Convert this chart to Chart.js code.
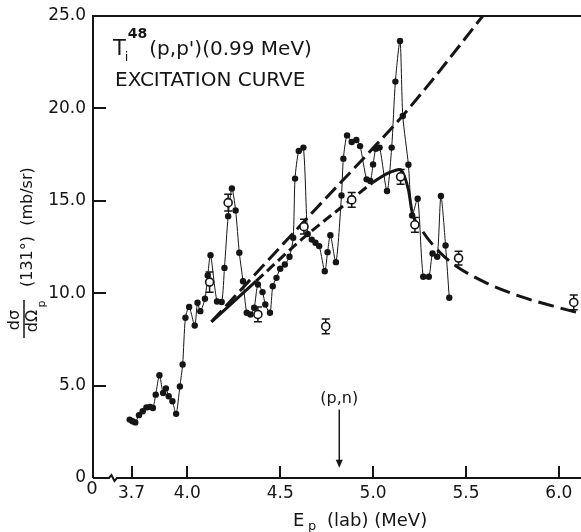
<!DOCTYPE html>
<html>
<head>
<meta charset="utf-8">
<script src="https://cdn.jsdelivr.net/npm/chart.js@4.4.0/dist/chart.umd.min.js"></script>
<style>
  html, body { margin: 0; padding: 0; background: #fff; }
  #wrap { width: 581px; height: 532px; }
</style>
</head>
<body>
<div id="wrap"><canvas id="c" width="581" height="532"></canvas></div>
<script>
// Ti-48 (p,p') excitation curve for the 0.99 MeV level, measured at 131 degrees

// measured cross sections (filled points)
const energyMeV = [3.69, 3.705, 3.72, 3.74, 3.76, 3.78, 3.80, 3.815, 3.83, 3.85, 3.87, 3.885, 3.90, 3.92, 3.94, 3.96, 3.975, 3.99, 4.01, 4.04, 4.055, 4.07, 4.095, 4.11, 4.125, 4.16, 4.185, 4.20, 4.22, 4.24, 4.26, 4.28, 4.30, 4.32, 4.34, 4.36, 4.38, 4.405, 4.42, 4.445, 4.46, 4.48, 4.50, 4.525, 4.55, 4.57, 4.58, 4.60, 4.625, 4.648, 4.67, 4.69, 4.71, 4.74, 4.755, 4.77, 4.80, 4.83, 4.84, 4.86, 4.885, 4.91, 4.93, 4.965, 4.985, 5.00, 5.015, 5.035, 5.075, 5.10, 5.12, 5.145, 5.16, 5.19, 5.21, 5.24, 5.27, 5.30, 5.32, 5.345, 5.365, 5.39, 5.41];
const crossSection = [3.16, 3.07, 3.01, 3.4, 3.61, 3.82, 3.85, 3.79, 4.51, 5.56, 4.6, 4.85, 4.42, 4.15, 3.47, 4.95, 6.14, 8.67, 9.26, 8.25, 9.48, 9.03, 9.7, 10.96, 12.06, 9.55, 9.52, 11.37, 14.17, 15.67, 14.48, 12.19, 10.65, 8.94, 8.85, 9.21, 10.47, 10.06, 9.39, 8.94, 10.38, 10.83, 11.32, 11.55, 11.97, 13.0, 16.2, 17.7, 17.88, 13.2, 12.9, 12.73, 12.55, 11.19, 12.22, 13.14, 11.68, 15.29, 17.28, 18.54, 18.18, 18.29, 17.96, 16.16, 16.07, 16.97, 17.82, 17.88, 15.53, 17.88, 21.45, 23.65, 19.59, 16.95, 14.21, 15.11, 10.89, 10.89, 12.15, 11.97, 15.26, 12.58, 9.75];

// energy-averaged points (open circles) with their errors
const avgEnergy = [4.12, 4.22, 4.38, 4.628, 4.745, 4.885, 5.148, 5.225, 5.46, 6.08];
const avgSigma = [10.6, 14.9, 8.85, 13.6, 8.2, 15.05, 16.3, 13.7, 11.9, 9.5];
const avgError = [0.55, 0.45, 0.4, 0.4, 0.4, 0.4, 0.4, 0.4, 0.37, 0.4];

// Hauser-Feshbach curves: without and with neutron competition
const hfNoCompEnergy = [4.13, 4.4, 4.7, 5.0, 5.15, 5.3, 5.45, 5.59];
const hfNoCompSigma = [8.45, 11.4, 14.65, 17.85, 19.5, 21.3, 23.2, 25.0];
const hfCompEnergy = [4.13, 4.37, 4.62, 4.88, 5.0, 5.08, 5.145, 5.19, 5.21, 5.27, 5.36, 5.45, 5.6, 5.8, 5.97, 6.12];
const hfCompSigma = [8.45, 10.65, 12.95, 15.05, 16.0, 16.5, 16.7, 15.6, 14.4, 13.3, 12.2, 11.45, 10.6, 9.8, 9.3, 8.9];

// axes
const xTickValues = [3.7, 4.0, 4.5, 5.0, 5.5, 6.0];
const xTickLabels = ['3.7', '4.0', '4.5', '5.0', '5.5', '6.0'];
const xAxisStart = 3.4925, xAxisEnd = 6.119, xAxisStartLabel = '0', xBreakAt = 3.6;
const yTickValues = [0, 5, 10, 15, 20, 25];
const yTickLabels = ['0', '5.0', '10.0', '15.0', '20.0', '25.0'];
const pnThreshold = 4.818;

const pts = (xs, ys) => xs.map((x, i) => ({ x, y: ys[i] }));
const INK = '#151515';
const FONT = '"DejaVu Sans", sans-serif';

const errorBars = {
  id: 'errorBars',
  afterDatasetsDraw(chart) {
    const { ctx, scales: { x, y } } = chart;
    ctx.save();
    ctx.strokeStyle = INK;
    ctx.lineWidth = 1.5;
    avgEnergy.forEach((e, i) => {
      const px = x.getPixelForValue(e);
      const py = y.getPixelForValue(avgSigma[i]);
      const top = y.getPixelForValue(avgSigma[i] + avgError[i]);
      const bot = y.getPixelForValue(avgSigma[i] - avgError[i]);
      ctx.beginPath();
      ctx.moveTo(px, py - 4); ctx.lineTo(px, top);
      ctx.moveTo(px - 4, top); ctx.lineTo(px + 4, top);
      ctx.moveTo(px, py + 4); ctx.lineTo(px, bot);
      ctx.moveTo(px - 4, bot); ctx.lineTo(px + 4, bot);
      ctx.stroke();
    });
    ctx.restore();
  }
};

const frame = {
  id: 'frame',
  afterDraw(chart) {
    const { ctx, chartArea: a, scales: { x, y } } = chart;
    ctx.save();
    ctx.strokeStyle = INK;
    ctx.fillStyle = INK;
    ctx.lineWidth = 2;
    ctx.lineCap = 'butt';

    // top border and left axis
    ctx.beginPath();
    ctx.moveTo(a.right, a.top);
    ctx.lineTo(a.left, a.top);
    ctx.lineTo(a.left, a.bottom);
    ctx.stroke();

    // bottom axis with a break mark
    const bx = x.getPixelForValue(xBreakAt);
    const b = a.bottom;
    ctx.beginPath();
    ctx.moveTo(a.left, b);
    ctx.lineTo(bx - 4, b);
    ctx.lineTo(bx - 1.5, b - 3);
    ctx.lineTo(bx + 1.5, b + 3);
    ctx.lineTo(bx + 4, b);
    ctx.lineTo(a.right, b);
    ctx.stroke();

    // inward tick marks
    ctx.beginPath();
    yTickValues.filter(v => v > 0 && v < 25).forEach(v => {
      const py = Math.round(y.getPixelForValue(v));
      ctx.moveTo(a.left, py); ctx.lineTo(a.left + 13, py);
    });
    xTickValues.forEach(v => {
      const px = Math.round(x.getPixelForValue(v));
      ctx.moveTo(px, b); ctx.lineTo(px, b - 12);
    });
    ctx.stroke();

    // (p,n) threshold arrow
    const ax = x.getPixelForValue(pnThreshold);
    ctx.font = '16px ' + FONT;
    ctx.textAlign = 'center';
    ctx.textBaseline = 'middle';
    ctx.fillText('(p,n)', ax, y.getPixelForValue(4.3));
    const aTop = y.getPixelForValue(3.7), aTip = y.getPixelForValue(0.55);
    ctx.lineWidth = 1.5;
    ctx.beginPath();
    ctx.moveTo(ax, aTop); ctx.lineTo(ax, aTip - 6);
    ctx.stroke();
    ctx.beginPath();
    ctx.moveTo(ax - 3.5, aTip - 8); ctx.lineTo(ax + 3.5, aTip - 8); ctx.lineTo(ax, aTip);
    ctx.closePath(); ctx.fill();

    // title block
    ctx.textAlign = 'left';
    ctx.textBaseline = 'alphabetic';
    ctx.font = '21px ' + FONT;
    let cx = 113;
    ctx.fillText('T', cx, 55);
    const tW = ctx.measureText('T').width;
    ctx.font = '13px ' + FONT;
    ctx.fillText('i', cx + tW - 1, 61);
    ctx.font = 'bold 14px ' + FONT;
    ctx.fillText('48', cx + tW + 2, 38);
    cx += tW + 2 + ctx.measureText('48').width + 2;
    ctx.font = '20px ' + FONT;
    ctx.fillText("(p,p')(0.99 MeV)", cx, 55);
    ctx.fillText('EXCITATION CURVE', 115, 86);

    // x-axis title
    ctx.font = '18px ' + FONT;
    ctx.fillText('E', 293, 526);
    ctx.font = '13px ' + FONT;
    ctx.fillText('p', 308, 530);
    ctx.font = '18px ' + FONT;
    ctx.fillText('(lab) (MeV)', 327, 526);

    // x-axis origin label
    ctx.textAlign = 'center';
    ctx.fillText(xAxisStartLabel, a.left - 1, 494);

    // y-axis title, rotated
    ctx.save();
    ctx.translate(28, 0);
    ctx.rotate(-Math.PI / 2);
    ctx.textAlign = 'left';
    ctx.textBaseline = 'middle';
    ctx.font = '16px ' + FONT;
    ctx.fillText('(131°)  (mb/sr)', -287, 0);
    // fraction d sigma / d Omega_p
    ctx.textAlign = 'center';
    ctx.font = '16px ' + FONT;
    ctx.fillText('dσ', -320, -13);
    ctx.fillText('dΩ', -321, 5);
    ctx.font = '11px ' + FONT;
    ctx.fillText('p', -304, 14);
    ctx.lineWidth = 1.5;
    ctx.beginPath();
    ctx.moveTo(-338, -4); ctx.lineTo(-300, -4);
    ctx.stroke();
    ctx.restore();

    ctx.restore();
  }
};

new Chart(document.getElementById('c'), {
  type: 'scatter',
  data: {
    datasets: [
      {
        label: 'averaged',
        data: pts(avgEnergy, avgSigma),
        showLine: false,
        pointStyle: 'circle',
        pointRadius: 4,
        pointBorderWidth: 1.6,
        pointBorderColor: INK,
        pointBackgroundColor: '#fff',
        order: 0
      },
      {
        label: 'measured',
        data: pts(energyMeV, crossSection),
        showLine: true,
        borderColor: INK,
        borderWidth: 1,
        tension: 0.25,
        pointRadius: 3.2,
        pointBorderWidth: 0,
        pointBackgroundColor: INK,
        order: 1
      },
      {
        label: 'HF no competition',
        data: pts(hfNoCompEnergy, hfNoCompSigma),
        showLine: true,
        borderColor: INK,
        borderWidth: 3,
        borderDash: [15, 6],
        cubicInterpolationMode: 'monotone',
        pointRadius: 0,
        order: 2
      },
      {
        label: 'HF with competition',
        data: pts(hfCompEnergy, hfCompSigma),
        showLine: true,
        borderColor: INK,
        borderWidth: 3,
        cubicInterpolationMode: 'monotone',
        pointRadius: 0,
        segment: {
          borderDash: c => {
            const x0 = c.p0.parsed.x;
            if (x0 < 4.37) return [];
            if (x0 < 5.0) return [10, 5];
            if (x0 < 5.21) return [];
            return [16, 7];
          }
        },
        order: 3
      }
    ]
  },
  options: {
    responsive: false,
    animation: false,
    devicePixelRatio: 1,
    layout: { autoPadding: false, padding: { top: 16, right: 0, left: 0, bottom: 0 } },
    plugins: { legend: { display: false }, tooltip: { enabled: false } },
    scales: {
      x: {
        type: 'linear',
        min: xAxisStart,
        max: xAxisEnd,
        grid: { display: false, drawTicks: false },
        border: { display: false },
        afterBuildTicks: s => { s.ticks = xTickValues.map(v => ({ value: v })); },
        afterFit: s => { s.height = 54; s.paddingLeft = 0; s.paddingRight = 0; },
        ticks: {
          autoSkip: false,
          maxRotation: 0,
          padding: 5,
          color: INK,
          font: { family: FONT, size: 17 },
          callback: (v, i) => xTickLabels[i]
        }
      },
      y: {
        type: 'linear',
        min: 0,
        max: 25,
        grid: { display: false, drawTicks: false },
        border: { display: false },
        afterBuildTicks: s => { s.ticks = yTickValues.map(v => ({ value: v })); },
        afterFit: s => { s.width = 93; s.paddingTop = 0; s.paddingBottom = 0; },
        ticks: {
          autoSkip: false,
          padding: 7,
          color: INK,
          font: { family: FONT, size: 17 },
          callback: (v, i) => yTickLabels[i]
        }
      }
    }
  },
  plugins: [errorBars, frame]
});
</script>
</body>
</html>
